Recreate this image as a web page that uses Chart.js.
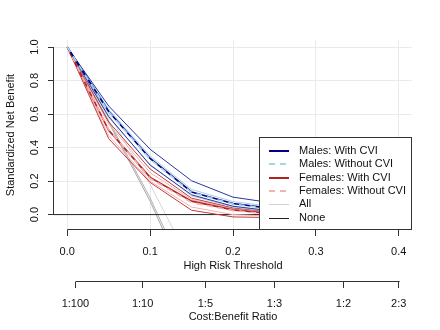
<!DOCTYPE html>
<html>
<head>
<meta charset="utf-8">
<script src="https://cdn.jsdelivr.net/npm/chart.js@4/dist/chart.umd.min.js"></script>
<style>
  html, body { margin: 0; padding: 0; background: #fff; }
  #wrap { width: 440px; height: 330px; }
</style>
</head>
<body>
<div id="wrap"><canvas id="dcaChart" width="440" height="330"></canvas></div>
<script>
// thresholds where the curves are evaluated
var thresholds = [0, 0.05, 0.1, 0.15, 0.2, 0.25];

// standardized net benefit (main curve + CI bounds)
var malesCvi       = [1, 0.615, 0.335, 0.135, 0.066, 0.034];
var malesCviLow    = [1, 0.585, 0.295, 0.118, 0.050, 0.020];
var malesCviHigh   = [1, 0.648, 0.390, 0.202, 0.104, 0.068];

var malesNoCvi     = [1, 0.612, 0.330, 0.132, 0.063, 0.031];
var malesNoCviLow  = [1, 0.578, 0.300, 0.112, 0.045, 0.016];
var malesNoCviHigh = [1, 0.628, 0.350, 0.150, 0.078, 0.046];

var femalesCvi       = [1, 0.503, 0.222, 0.080, 0.028, 0.004];
var femalesCviLow    = [1, 0.453, 0.192, 0.026, -0.014, -0.018];
var femalesCviHigh   = [1, 0.553, 0.272, 0.098, 0.040, 0.014];

var femalesNoCvi     = [1, 0.508, 0.215, 0.072, 0.024, 0.000];
var femalesNoCviLow  = [1, 0.470, 0.200, 0.045, 0.000, -0.010];
var femalesNoCviHigh = [1, 0.540, 0.250, 0.090, 0.036, 0.010];

// "All" curves (treat everyone)
var allThresholds = [0, 0.05, 0.1, 0.15];
var allA = [1, 0.60, 0.18, -0.30];
var allB = [1, 0.56, 0.10, -0.44];
var allC = [1, 0.55, 0.08, -0.47];

// "None" is zero everywhere
var noneValue = 0;

// axes
var X_MIN = -0.016, X_MAX = 0.416;
var Y_MIN = -0.092, Y_MAX = 1.042;
var xTicks = [0, 0.1, 0.2, 0.3, 0.4];
var xTickLabels = ["0.0", "0.1", "0.2", "0.3", "0.4"];
var yTicks = [0, 0.2, 0.4, 0.6, 0.8, 1.0];
var yTickLabels = ["0.0", "0.2", "0.4", "0.6", "0.8", "1.0"];
var cbTicks = [1 / 101, 1 / 11, 1 / 6, 1 / 4, 1 / 3, 2 / 5];
var cbTickLabels = ["1:100", "1:10", "1:5", "1:3", "1:2", "2:3"];

var legendLabels = ["Males: With CVI", "Males: Without CVI", "Females: With CVI",
                    "Females: Without CVI", "All", "None"];

var FONT = "'Liberation Sans', Arial, Helvetica, sans-serif";
var textColor = "#111";
var axisColor = "#333";
var gridColor = "#eaeaea";

var NAVY = "#00008b", LIGHTBLUE = "#a9d4e4", RED = "#b22222", PINK = "#f2b2b2";

// styles for the legend (same as main lines)
var legendStyles = [
  { color: NAVY, width: 2, dash: [] },
  { color: LIGHTBLUE, width: 2, dash: [6, 5] },
  { color: RED, width: 2, dash: [] },
  { color: PINK, width: 2, dash: [6, 5] },
  { color: "#d3d3d3", width: 1, dash: [] },
  { color: "#222", width: 1, dash: [] }
];

function toPoints(xs, ys) {
  var pts = [];
  for (var i = 0; i < ys.length; i++) pts.push({ x: xs[i], y: ys[i] });
  return pts;
}

function lineSet(label, xs, ys, color, width, dash, order) {
  return {
    label: label,
    data: toPoints(xs, ys),
    borderColor: color,
    borderWidth: width,
    borderDash: dash || [],
    pointRadius: 0,
    fill: false,
    tension: 0,
    order: order
  };
}

var datasets = [
  // lower order = drawn on top
  lineSet("Males: Without CVI", thresholds, malesNoCvi, LIGHTBLUE, 1.7, [6, 5], 1),
  lineSet("Males: With CVI", thresholds, malesCvi, NAVY, 1.7, [], 2),
  lineSet("Females: Without CVI", thresholds, femalesNoCvi, PINK, 1.7, [6, 5], 3),
  lineSet("Females: With CVI", thresholds, femalesCvi, RED, 1.7, [], 4),
  lineSet("males cvi hi", thresholds, malesCviHigh, "#2a35a0", 1, [], 5),
  lineSet("males cvi lo", thresholds, malesCviLow, "#2a35a0", 1, [], 5),
  lineSet("males no cvi hi", thresholds, malesNoCviHigh, LIGHTBLUE, 1, [], 6),
  lineSet("males no cvi lo", thresholds, malesNoCviLow, LIGHTBLUE, 1, [], 6),
  lineSet("females cvi hi", thresholds, femalesCviHigh, "#c23a3a", 1, [], 7),
  lineSet("females cvi lo", thresholds, femalesCviLow, "#c23a3a", 1, [], 7),
  lineSet("females no cvi hi", thresholds, femalesNoCviHigh, PINK, 1, [], 8),
  lineSet("females no cvi lo", thresholds, femalesNoCviLow, PINK, 1, [], 8),
  lineSet("None", [X_MIN, X_MAX], [noneValue, noneValue], "#222", 1, [], 9),
  lineSet("All", allThresholds, allA, "#d6d6d6", 1, [], 10),
  lineSet("All", allThresholds, allB, "#b0b0b0", 1, [], 10),
  lineSet("All", allThresholds, allC, "#a8a8a8", 1, [], 10)
];

function crisp(v) { return Math.round(v) + 0.5; }

function drawAxes(chart) {
  var ctx = chart.ctx;
  var sx = chart.scales.x, sx2 = chart.scales.x2, sy = chart.scales.y;
  ctx.save();
  ctx.strokeStyle = axisColor;
  ctx.lineWidth = 1;
  ctx.setLineDash([]);

  // x axis line (first to last tick, like base R)
  var yx = crisp(sx.top - 1);
  ctx.beginPath();
  ctx.moveTo(sx.getPixelForValue(xTicks[0]), yx);
  ctx.lineTo(sx.getPixelForValue(xTicks[xTicks.length - 1]) + 1, yx);
  ctx.stroke();

  // cost:benefit axis line
  var yc = crisp(sx2.top - 1);
  ctx.beginPath();
  ctx.moveTo(sx2.getPixelForValue(cbTicks[0]), yc);
  ctx.lineTo(sx2.getPixelForValue(cbTicks[cbTicks.length - 1]) + 1, yc);
  ctx.stroke();

  // y axis line
  var xy = crisp(sy.right - 1);
  ctx.beginPath();
  ctx.moveTo(xy, sy.getPixelForValue(yTicks[0]));
  ctx.lineTo(xy, sy.getPixelForValue(yTicks[yTicks.length - 1]));
  ctx.stroke();

  // y tick labels, rotated like las=0
  ctx.fillStyle = textColor;
  ctx.font = "11px " + FONT;
  ctx.textAlign = "center";
  ctx.textBaseline = "middle";
  for (var i = 0; i < yTicks.length; i++) {
    var py = sy.getPixelForValue(yTicks[i]);
    ctx.save();
    ctx.translate(sy.right - 19, py);
    ctx.rotate(-Math.PI / 2);
    ctx.fillText(yTickLabels[i], 0, 0);
    ctx.restore();
  }
  ctx.restore();
}

function drawLegendBox(chart) {
  var ctx = chart.ctx;
  var a = chart.chartArea;
  var w = 153, h = 93;
  var left = Math.round(a.right) - w, top = Math.round(a.bottom) - h;

  ctx.save();
  ctx.fillStyle = "#fff";
  ctx.fillRect(left, top, w, h);
  ctx.strokeStyle = axisColor;
  ctx.lineWidth = 1;
  ctx.setLineDash([]);
  ctx.strokeRect(left + 0.5, top + 0.5, w - 1, h - 1);

  ctx.font = "11px " + FONT;
  ctx.textAlign = "left";
  ctx.textBaseline = "middle";
  for (var i = 0; i < legendLabels.length; i++) {
    var cy = top + 14 + i * 13.3;
    var st = legendStyles[i];
    ctx.strokeStyle = st.color;
    ctx.lineWidth = st.width;
    ctx.setLineDash(st.dash);
    ctx.beginPath();
    ctx.moveTo(left + 10, Math.round(cy) + (st.width === 1 ? 0.5 : 0));
    ctx.lineTo(left + 30, Math.round(cy) + (st.width === 1 ? 0.5 : 0));
    ctx.stroke();
    ctx.setLineDash([]);
    ctx.fillStyle = textColor;
    ctx.fillText(legendLabels[i], left + 40, cy);
  }
  ctx.restore();
}

var rStyle = {
  id: "rStyle",
  afterDatasetsDraw: function (chart) { drawLegendBox(chart); },
  afterDraw: function (chart) { drawAxes(chart); }
};

Chart.defaults.font.family = FONT;
Chart.defaults.font.size = 11;
Chart.defaults.color = textColor;

new Chart(document.getElementById("dcaChart"), {
  type: "line",
  data: { datasets: datasets },
  plugins: [rStyle],
  options: {
    responsive: false,
    animation: false,
    layout: { padding: { left: 0, right: 28, top: 40, bottom: 0 } },
    plugins: {
      legend: { display: false },
      tooltip: { enabled: false }
    },
    scales: {
      x: {
        type: "linear",
        position: "bottom",
        weight: 0,
        min: X_MIN,
        max: X_MAX,
        afterBuildTicks: function (s) { s.ticks = xTicks.map(function (v) { return { value: v }; }); },
        afterFit: function (s) { s.height = 52; },
        grid: { color: gridColor, drawTicks: true, tickLength: 6, tickColor: axisColor },
        border: { display: false },
        ticks: {
          autoSkip: false, maxRotation: 0, padding: 9, color: textColor,
          callback: function (v, i) { return xTickLabels[i]; }
        },
        title: { display: true, text: "High Risk Threshold", color: textColor, padding: { top: 0, bottom: 9 } }
      },
      x2: {
        type: "linear",
        position: "bottom",
        weight: 1,
        min: X_MIN,
        max: X_MAX,
        afterBuildTicks: function (s) { s.ticks = cbTicks.map(function (v) { return { value: v }; }); },
        afterFit: function (s) { s.height = 48; },
        grid: { drawOnChartArea: false, drawTicks: true, tickLength: 6, tickColor: axisColor },
        border: { display: false },
        ticks: {
          autoSkip: false, maxRotation: 0, padding: 9, color: textColor,
          callback: function (v, i) { return cbTickLabels[i]; }
        },
        title: { display: true, text: "Cost:Benefit Ratio", color: textColor, padding: { top: 0, bottom: 6 } }
      },
      y: {
        type: "linear",
        position: "left",
        min: Y_MIN,
        max: Y_MAX,
        afterBuildTicks: function (s) { s.ticks = yTicks.map(function (v) { return { value: v }; }); },
        afterFit: function (s) { s.width = 54; },
        grid: { color: gridColor, drawTicks: true, tickLength: 6, tickColor: axisColor },
        border: { display: false },
        ticks: { display: false },
        title: { display: true, text: "Standardized Net Benefit", color: textColor, padding: { top: 4, bottom: 0 } }
      }
    }
  }
});
</script>
</body>
</html>
